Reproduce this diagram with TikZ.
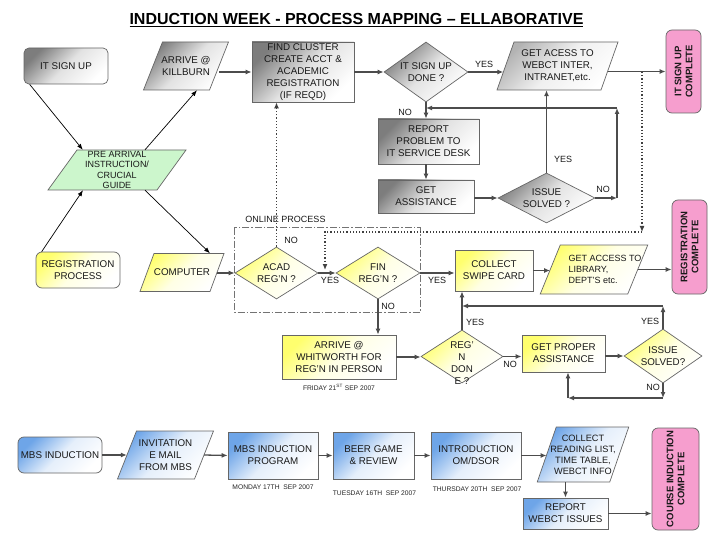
\documentclass[tikz,border=0pt]{standalone}
\usepackage{fontspec}
\setmainfont{Liberation Sans}
\usetikzlibrary{shapes.geometric,arrows.meta,calc}
\definecolor{pinkc}{RGB}{246,158,206}
\definecolor{bluec}{RGB}{110,165,232}
\definecolor{greenc}{RGB}{204,246,204}
\definecolor{yelc}{RGB}{255,255,110}
\definecolor{grayc}{RGB}{125,125,125}
\newcommand\fs[2]{\fontsize{#1}{#2}\selectfont}
% parallelogram: name, shape style, node options, cx, cy, midline width, height, slant, text
\newcommand\para[9]{%
  \path[box,#2] ({#4-#6/2-#8/2},{#5+#7/2}) -- ({#4+#6/2-#8/2},{#5+#7/2}) -- ({#4+#6/2+#8/2},{#5-#7/2}) -- ({#4-#6/2+#8/2},{#5-#7/2}) -- cycle;
  \node[txt,minimum width=#6pt,minimum height=#7pt,#3] (#1) at (#4,#5) {#9};
}
\tikzset{
  box/.style={draw=black!60, line width=0.7pt},
  txt/.style={inner sep=0pt, align=center, font=\fs{9.8}{12}, text=black!90},
  gsh/.style={top color=grayc, bottom color=white, middle color=grayc!22, shading angle=45},
  lgsh/.style={top color=black!30, bottom color=white, middle color=black!6, shading angle=45},
  ysh/.style={top color=yelc, bottom color=white, middle color=yelc!18, shading angle=45},
  bsh/.style={top color=bluec, bottom color=white, middle color=bluec!18, shading angle=45},
  gr/.style={fill=greenc},
  pk/.style={box, fill=pinkc, rounded corners=6pt, inner sep=0pt},
  pktxt/.style={inner sep=0pt, align=center, font=\bfseries\fs{9.5}{11}, rotate=90, text=black!90},
  dmd/.style={diamond, inner sep=0pt},
  conn/.style={draw=black!70, line width=1.3pt, -{Latex[length=6pt,width=5pt]}},
  diag/.style={draw=black, line width=0.7pt, -{Latex[length=6pt,width=4.5pt]}},
  dots/.style={draw=black!75, line width=1.2pt, dotted},
  dotsa/.style={dots, -{Latex[length=6pt,width=5pt]}},
  dashframe/.style={draw=black!55, line width=1pt, dash pattern=on 7pt off 2pt on 1.5pt off 2pt},
  lab/.style={inner sep=0pt, font=\fs{9}{10}, text=black!90},
  datel/.style={inner sep=0pt, font=\fs{6.7}{8}, text=black!85},
}
\begin{document}
\begin{tikzpicture}[x=1pt,y=-1pt]
\fill[white] (0,0) rectangle (720,540);
\useasboundingbox (0,0) rectangle (720,540);

% title
\node[inner sep=0pt, font=\bfseries\fs{16}{18}] (title) at (356.5,20) {\underline{INDUCTION WEEK - PROCESS MAPPING – ELLABORATIVE}};

% ---------- top section (grey) ----------
\node[box,gsh,txt,rounded corners=5pt,minimum width=84pt,minimum height=36pt] (itsign) at (66,66) {IT SIGN UP};
\para{arrive}{gsh}{}{186}{66}{66}{48}{19}{ARRIVE @\\KILLBURN}
\para{pre}{gr}{font=\fs{9}{10.6}}{117}{170}{109}{40}{29}{PRE ARRIVAL\\INSTRUCTION/\\CRUCIAL\\GUIDE}
\node[box,gsh,txt,minimum width=102pt,minimum height=60pt] (find) at (303,72) {FIND CLUSTER\\CREATE ACCT \&\\ACADEMIC\\REGISTRATION\\(IF REQD)};
\node[box,gsh,dmd,minimum width=84pt,minimum height=60pt,label={[txt]center:IT SIGN UP\\DONE ?}] (itdone) at (426,72) {};
\para{getacc}{lgsh}{}{557.5}{66}{104}{48}{17}{GET ACESS TO\\WEBCT INTER,\\INTRANET,etc.}
\node[pk,minimum width=35pt,minimum height=83pt,label={[pktxt]center:IT SIGN UP\\COMPLETE}] (itcomplete) at (683.5,71.5) {};
\node[box,gsh,txt,minimum width=101pt,minimum height=45pt] (report) at (428.5,141.5) {REPORT\\PROBLEM TO\\IT SERVICE DESK};
\node[box,gsh,txt,minimum width=96pt,minimum height=33pt] (getassist) at (426,196.5) {GET\\ASSISTANCE};
\node[box,gsh,dmd,minimum width=97pt,minimum height=50pt,label={[txt]center:ISSUE\\SOLVED ?}] (issue1) at (546.5,198) {};

% ---------- middle section (yellow) ----------
\node[box,ysh,txt,rounded corners=6pt,minimum width=84pt,minimum height=36pt] (regproc) at (78,270) {REGISTRATION\\PROCESS};
\para{computer}{ysh}{}{182}{272.5}{70}{38}{14}{COMPUTER}
\draw[dashframe] (234,228) rectangle (420,312);
\node[lab] (online) at (285.5,219) {ONLINE PROCESS};
\node[box,ysh,dmd,minimum width=83pt,minimum height=52pt,label={[txt]center:ACAD\\REG'N ?}] (acad) at (276.5,273) {};
\node[box,ysh,dmd,minimum width=84pt,minimum height=52pt,label={[txt]center:FIN\\REG'N ?}] (fin) at (378,273) {};
\node[box,ysh,txt,minimum width=78pt,minimum height=41pt] (collect) at (494,270.5) {COLLECT\\SWIPE CARD};
\para{getlib}{ysh}{label={[txt,font=\fs{9}{10.8},align=left,xshift=11pt]center:GET ACCESS TO\\LIBRARY,\\DEPT'S etc.}}{594}{269.5}{87.5}{49}{20}{}
\node[pk,minimum width=35pt,minimum height=94pt,label={[pktxt]center:REGISTRATION\\COMPLETE}] (regcomplete) at (689.5,247) {};
\node[box,ysh,txt,minimum width=114pt,minimum height=44pt] (whit) at (339,357) {ARRIVE @\\WHITWORTH FOR\\REG'N IN PERSON};
\node[datel] (friday) at (339,387) {FRIDAY 21\textsuperscript{ST} SEP 2007};
\node[box,ysh,dmd,minimum width=82pt,minimum height=53pt,label={[txt,yshift=-6.5pt]center:REG'\\N\\DON\\E ?}] (regdone) at (462,356.5) {};
\node[box,ysh,txt,minimum width=83pt,minimum height=37pt] (gpa) at (563.5,353.5) {GET PROPER\\ASSISTANCE};
\node[box,ysh,dmd,minimum width=78pt,minimum height=54pt,label={[txt]center:ISSUE\\SOLVED?}] (issue2) at (663,356) {};

% ---------- bottom section (blue) ----------
\node[box,bsh,txt,rounded corners=6pt,minimum width=84pt,minimum height=36pt] (mbs) at (60,455) {MBS INDUCTION};
\para{invite}{bsh}{}{165.5}{455}{77}{48}{19}{INVITATION\\E MAIL\\FROM MBS}
\node[box,bsh,txt,minimum width=90pt,minimum height=47pt] (mbsprog) at (273,455.5) {MBS INDUCTION\\PROGRAM};
\node[box,bsh,txt,minimum width=81pt,minimum height=47pt] (beer) at (373.5,455.5) {BEER GAME\\\& REVIEW};
\node[box,bsh,txt,minimum width=90pt,minimum height=47pt] (intro) at (476,455.5) {INTRODUCTION\\OM/DSOR};
\para{collread}{bsh}{font=\fs{9.2}{11}}{583}{454.5}{72.5}{55}{19}{COLLECT\\READING LIST,\\TIME TABLE,\\WEBCT INFO}
\node[box,bsh,txt,minimum width=85pt,minimum height=31pt] (reportw) at (565.5,513.5) {REPORT\\WEBCT ISSUES};
\node[pk,minimum width=47pt,minimum height=102pt,label={[pktxt]center:COURSE INDUCTION\\COMPLETE}] (coursecomplete) at (675.5,479) {};
\node[datel] (monday) at (273,487) {MONDAY 17TH\ \ SEP 2007};
\node[datel] (tuesday) at (374.5,493) {TUESDAY 16TH\ \ SEP 2007};
\node[datel] (thursday) at (477,489) {THURSDAY 20TH\ \ SEP 2007};

% ---------- connectors: top ----------
\draw[diag] ([xshift=6pt]itsign.south west) -- ([xshift=20.5pt]pre.north west);
\draw[diag] ([xshift=28pt]pre.north) -- ([xshift=11pt]arrive.south);
\draw[diag] ([xshift=6pt]regproc.north west) -- ([xshift=-34pt]pre.south);
\draw[diag] ([xshift=28pt]pre.south) -- ([xshift=28pt]computer.north);
\draw[conn] ([yshift=-6pt]arrive.east) -- (find.west);
\draw[conn] (find.east) -- (itdone.west);
\draw[conn] (itdone.east) -- ($(itdone.east -| getacc.west)+(-2,0)$);
\draw[conn] ($(itcomplete.west -| getacc.east)+(-2,0)$) -- (itcomplete.west);
\draw[conn] (itdone.south) -- (itdone.south |- report.north);
\draw[conn] (getassist.north |- report.south) -- (getassist.north);
\draw[conn] (issue1.west -| getassist.east) -- (issue1.west);
\draw[conn] (issue1.north) -- (issue1.north |- getacc.south);
\coordinate (f1) at (617,198);
\coordinate (f2) at (617,108);
\draw[conn] (issue1.east) -- (f1);
\draw[conn] (f1) -- (f2);
\draw[conn] (f2) -- (itdone.south |- f2);

% dotted links
\coordinate (d1) at (642,72);
\coordinate (d2) at (642,232);
\coordinate (d3) at (325,232);
\coordinate (d4) at (325,270);
\draw[dotsa] (d1) -- (d2);
\draw[dotsa] (d2) -- (d3) -- (d4);
\draw[dotsa] (acad.north) -- (acad.north |- find.south);

% ---------- connectors: middle ----------
\draw[conn] (acad.west -| computer.east) -- (acad.west);
\draw[conn] (acad.east) -- (fin.west);
\draw[conn] (fin.east) -- (fin.east -| collect.west);
\draw[conn] (fin.south) -- (fin.south |- whit.north);
\draw[conn] (collect.east) -- (collect.east -| getlib.west);
\draw[conn] (getlib.east) -- (getlib.east -| regcomplete.west);
\draw[conn] (whit.east) -- (whit.east -| regdone.west);
\draw[conn] (regdone.north) -- (regdone.north |- collect.south);
\draw[conn] (regdone.east) -- (regdone.east -| gpa.west);
\draw[conn] (issue2.west -| gpa.east) -- (issue2.west);
\coordinate (y1) at (663,306);
\draw[conn] (issue2.north) -- (issue2.north |- y1);
\draw[conn] (issue2.north |- y1) -- (regdone.north |- y1);
\coordinate (n1) at (663,398);
\coordinate (n2) at (568,398);
\draw[conn] (issue2.south) -- (issue2.south |- n1);
\draw[conn] (issue2.south |- n1) -- (n2);
\draw[conn] (n2) -- (n2 |- gpa.south);

% ---------- connectors: bottom ----------
\draw[conn] (mbs.east) -- (invite.west);
\draw[conn] (invite.east) -- (mbsprog.west);
\draw[conn] (mbsprog.east) -- (beer.west);
\draw[conn] (beer.east) -- (intro.west);
\draw[conn] (intro.east) -- (intro.east -| collread.west);
\draw[conn] (collread.south -| reportw.north) -- (reportw.north);
\draw[conn] (reportw.east) -- (reportw.east -| coursecomplete.west);

% ---------- YES / NO labels ----------
\node[lab] (l1) at (484,64) {YES};
\node[lab] (l2) at (405,112) {NO};
\node[lab] (l3) at (563,159) {YES};
\node[lab] (l4) at (603,189) {NO};
\node[lab] (l5) at (291,240) {NO};
\node[lab] (l6) at (330,280) {YES};
\node[lab] (l7) at (437,280) {YES};
\node[lab] (l8) at (388,306) {NO};
\node[lab] (l9) at (475,322) {YES};
\node[lab] (l10) at (650,321) {YES};
\node[lab] (l11) at (510,364) {NO};
\node[lab] (l12) at (653,387) {NO};
\end{tikzpicture}
\end{document}
